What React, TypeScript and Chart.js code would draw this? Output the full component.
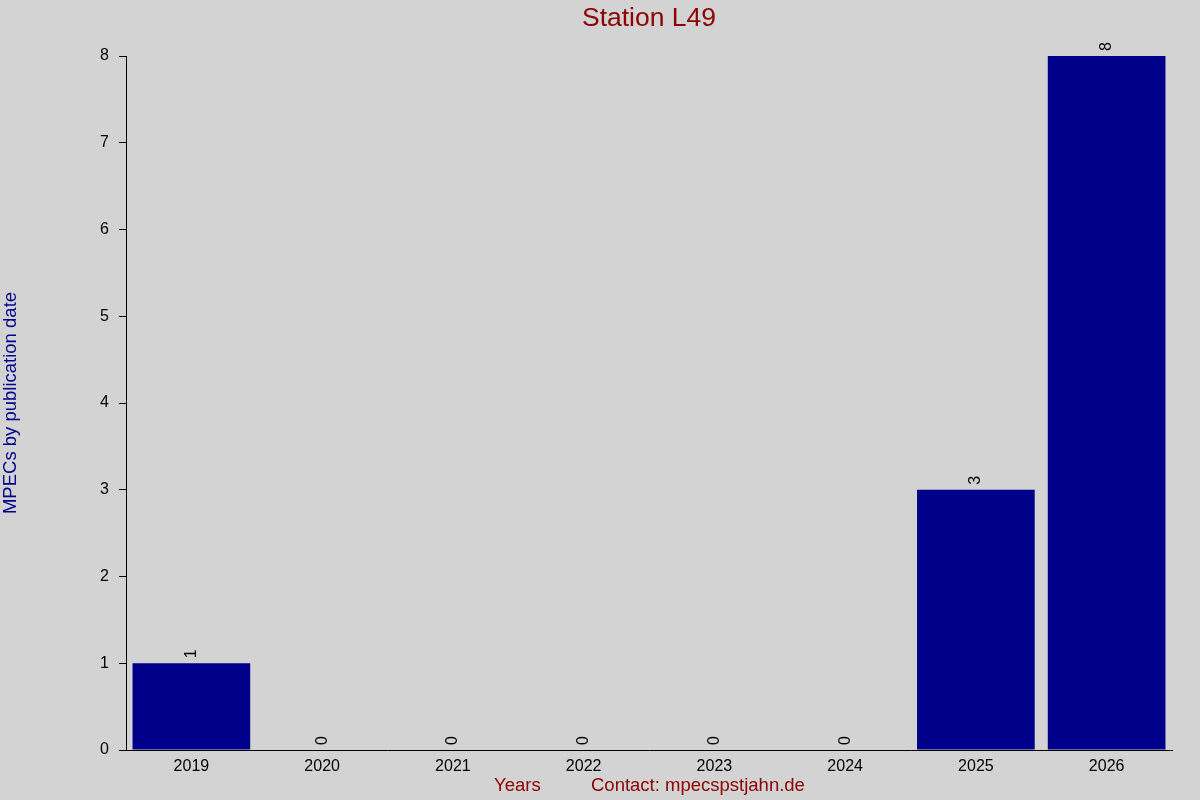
import React, { useEffect, useRef } from "react";
import { Chart, registerables } from "chart.js";

Chart.register(...registerables);

const years = ["2019", "2020", "2021", "2022", "2023", "2024", "2025", "2026"];
const mpecs = [1, 0, 0, 0, 0, 0, 3, 8];
const yTicks = [0, 1, 2, 3, 4, 5, 6, 7, 8];

const BG = "#d3d3d3";
const BAR = "#00008b";
const RED = "#8b0000";
const FONT = "Arial, 'Liberation Sans', sans-serif";

const extras = {
  id: "extras",
  beforeDraw(chart: any) {
    const { ctx, width, height } = chart;
    ctx.save();
    ctx.fillStyle = BG;
    ctx.fillRect(0, 0, width, height);
    ctx.restore();
  },
  afterDraw(chart: any) {
    const { ctx } = chart;
    const x = chart.scales.x;
    const y = chart.scales.y;
    ctx.save();
    // title
    ctx.fillStyle = RED;
    ctx.font = `26.5px ${FONT}`;
    ctx.textAlign = "center";
    ctx.textBaseline = "middle";
    ctx.fillText("Station L49", 649, 19);
    // x title pieces
    ctx.font = `18.5px ${FONT}`;
    ctx.textAlign = "left";
    ctx.fillText("Years", 494, 786);
    ctx.fillText("Contact: mpecspstjahn.de", 591, 786);
    // value labels
    ctx.fillStyle = "#000";
    ctx.font = `16px ${FONT}`;
    mpecs.forEach((v, i) => {
      const px = x.getPixelForValue(i);
      const py = y.getPixelForValue(v);
      ctx.save();
      ctx.translate(px, py - 5);
      ctx.rotate(-Math.PI / 2);
      ctx.textAlign = "left";
      ctx.textBaseline = "middle";
      ctx.fillText(String(v), 0, 0);
      ctx.restore();
    });
    ctx.restore();
  },
};

export default function App() {
  const canvasRef = useRef<HTMLCanvasElement | null>(null);
  const chartRef = useRef<Chart | null>(null);

  useEffect(() => {
    document.body.style.margin = "0";
    const ctx = canvasRef.current?.getContext("2d");
    if (!ctx) return;
    if (chartRef.current) chartRef.current.destroy();
    chartRef.current = new Chart(ctx, {
      type: "bar",
      data: {
        labels: years,
        datasets: [
          {
            data: mpecs,
            backgroundColor: BAR,
            borderWidth: 0,
            barPercentage: 0.9,
            categoryPercentage: 1,
          },
        ],
      },
      options: {
        animation: false,
        responsive: false,
        layout: { padding: { top: 56, right: 28, left: 0, bottom: 0 } },
        plugins: {
          legend: { display: false },
          tooltip: { enabled: false },
          title: { display: false },
        },
        scales: {
          x: {
            grid: { display: false },
            border: { color: "#000", width: 1 },
            ticks: {
              color: "#000",
              font: { family: FONT, size: 16 },
              padding: -1,
              maxRotation: 0,
            },
            afterFit: (s: any) => {
              s.height = 50;
            },
          },
          y: {
            min: 0,
            max: 8,
            afterBuildTicks: (s: any) => {
              s.ticks = yTicks.map((v) => ({ value: v }));
            },
            grid: {
              drawOnChartArea: false,
              drawTicks: true,
              tickLength: 7,
              color: "#000",
            },
            border: { color: "#000", width: 1 },
            ticks: {
              color: "#000",
              font: { family: FONT, size: 16 },
              padding: 10,
            },
            title: {
              display: true,
              text: "MPECs by publication date",
              color: BAR,
              font: { family: FONT, size: 18.5 },
              padding: 0,
            },
            afterFit: (s: any) => {
              s.width = 126;
            },
          },
        },
      },
      plugins: [extras],
    });
    return () => {
      if (chartRef.current) {
        chartRef.current.destroy();
        chartRef.current = null;
      }
    };
  }, []);

  return (
    <div style={{ width: 1200, height: 800, background: BG }}>
      <canvas ref={canvasRef} width={1200} height={800}></canvas>
    </div>
  );
}
